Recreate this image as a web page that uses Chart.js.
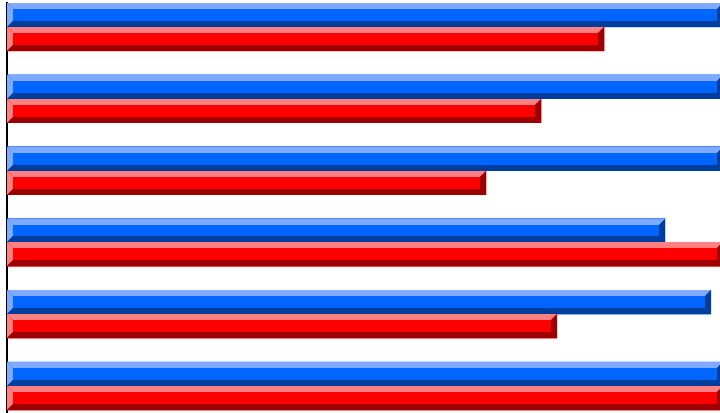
<!DOCTYPE html>
<html>
<head>
<meta charset="utf-8">
<script src="https://cdn.jsdelivr.net/npm/chart.js@4"></script>
<style>
    html, body { margin: 0; padding: 0; background: #fff; overflow: hidden; }
    #wrap { width: 720px; height: 413px; overflow: hidden; position: relative; }
    #chart { display: block; }
</style>
</head>
<body>
<div id="wrap"><canvas id="chart" width="724" height="434"></canvas></div>
<script>
// Chart data
const categories = ['1', '2', '3', '4', '5', '6'];
const blueValues = [100, 100, 100, 91.9, 98.3, 100];
const redValues = [83.4, 74.6, 66.9, 100, 76.8, 100];
const spareValues = [null, null, null, null, null, null]; // empty third slot in each group

// Bevel colours per series: [light, main, dark]
const blueShades = ['#80aaff', '#0066ff', '#003d9c'];
const redShades = ['#ff8080', '#ff0000', '#9c0000'];

// Draw a raised bevel on every bar, using the bar element geometry
const bevelPlugin = {
    id: 'bevel',
    afterDatasetsDraw(chart) {
        const ctx = chart.ctx;
        const b = 6;
        ctx.save();
        ctx.beginPath();
        ctx.rect(chart.chartArea.left, chart.chartArea.top, chart.chartArea.width, chart.chartArea.height);
        ctx.clip();
        chart.data.datasets.forEach((ds, i) => {
            if (!ds.shades) return;
            const meta = chart.getDatasetMeta(i);
            meta.data.forEach(bar => {
                const p = bar.getProps(['x', 'y', 'base', 'height'], true);
                if (p.x == null || isNaN(p.x)) return;
                const x0 = Math.round(p.base), x1 = Math.round(p.x);
                const y0 = Math.round(p.y - p.height / 2), y1 = Math.round(p.y + p.height / 2);
                const poly = (pts, color) => {
                    ctx.fillStyle = color;
                    ctx.beginPath();
                    ctx.moveTo(pts[0][0], pts[0][1]);
                    pts.slice(1).forEach(q => ctx.lineTo(q[0], q[1]));
                    ctx.closePath();
                    ctx.fill();
                };
                poly([[x0, y0], [x1, y0], [x1 - b, y0 + b], [x0 + b, y0 + b]], ds.shades[0]);
                poly([[x0, y0], [x0 + b, y0 + b], [x0 + b, y1 - b], [x0, y1]], ds.shades[0]);
                poly([[x0, y1], [x0 + b, y1 - b], [x1 - b, y1 - b], [x1, y1]], ds.shades[2]);
                poly([[x1, y0], [x1, y1], [x1 - b, y1 - b], [x1 - b, y0 + b]], ds.shades[2]);
            });
        });
        ctx.restore();
    }
};

new Chart(document.getElementById('chart').getContext('2d'), {
    type: 'bar',
    data: {
        labels: categories,
        datasets: [
            { data: blueValues, backgroundColor: blueShades[1], shades: blueShades },
            { data: redValues, backgroundColor: redShades[1], shades: redShades },
            { data: spareValues, backgroundColor: 'rgba(0,0,0,0)' }
        ]
    },
    options: {
        indexAxis: 'y',
        responsive: false,
        animation: false,
        devicePixelRatio: 1,
        layout: { padding: { top: 3, right: 1, bottom: 0, left: 0 } },
        datasets: { bar: { categoryPercentage: 1, barPercentage: 1, borderWidth: 0 } },
        plugins: { legend: { display: false }, tooltip: { enabled: false } },
        scales: {
            x: { display: false, min: 0, max: 100 },
            y: {
                display: true,
                grid: { display: false, drawTicks: false },
                ticks: { display: false },
                border: { display: true, color: '#000', width: 2 },
                afterFit: s => { s.width = 7; }
            }
        }
    },
    plugins: [bevelPlugin]
});
</script>
</body>
</html>
